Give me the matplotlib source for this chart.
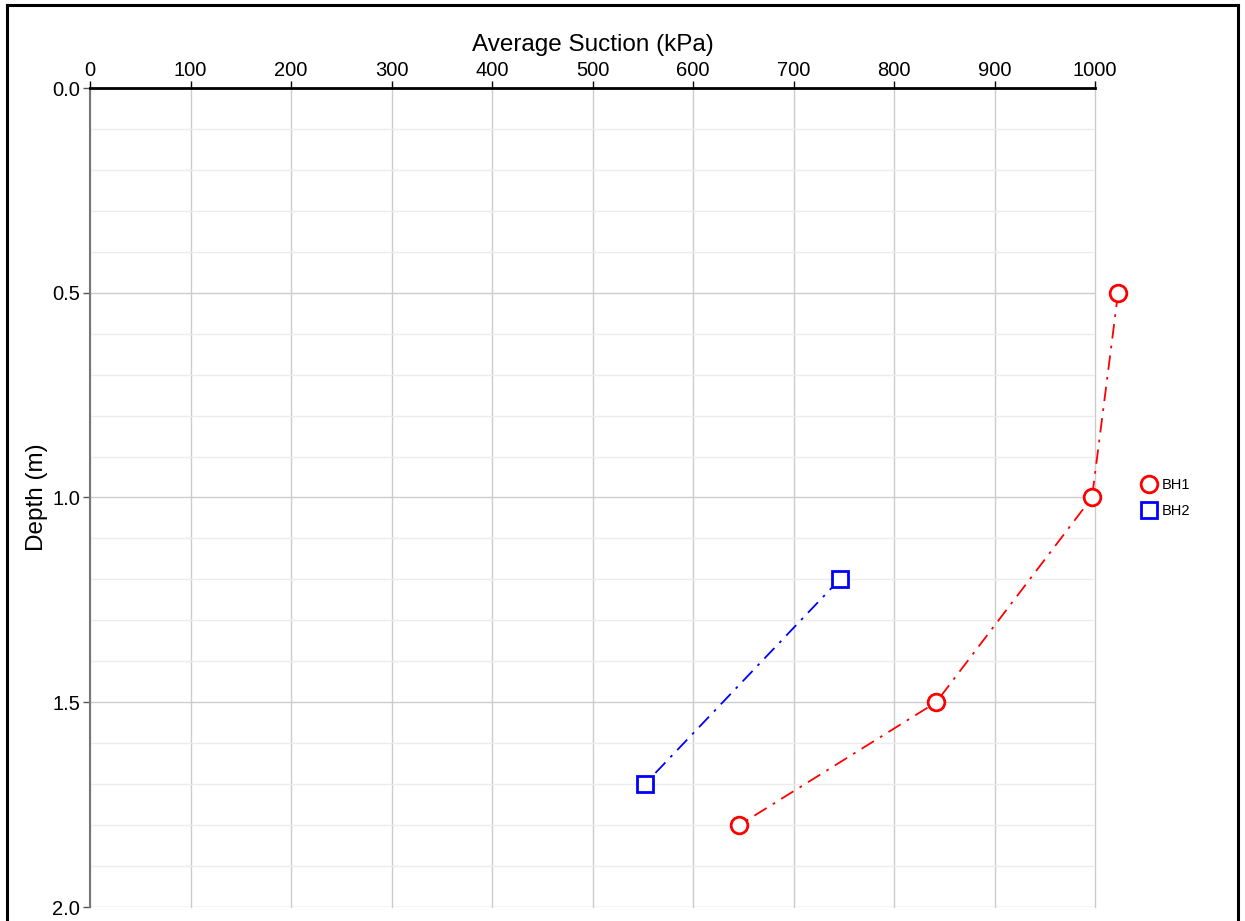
import matplotlib
matplotlib.use("Agg")
import matplotlib.pyplot as plt
from matplotlib.lines import Line2D
import numpy as np

plt.rcParams['font.family'] = ['Liberation Sans', 'DejaVu Sans']

bh1_suction = [1023, 997, 842, 646]
bh1_depth = [0.5, 1.0, 1.5, 1.8]
bh2_suction = [746, 552]
bh2_depth = [1.2, 1.7]
series_names = ["BH1", "BH2"]

W, H = 1245, 921
fig = plt.figure(figsize=(W/100, H/100), dpi=100)
ax = fig.add_axes([90/W, 1-907/H, (1095-90)/W, (907-88)/H])

ax.set_xlim(0, 1000)
ax.set_ylim(2.0, 0.0)
ax.xaxis.tick_top()
ax.xaxis.set_label_position('top')
ax.set_xticks(np.arange(0, 1001, 100))
ax.set_yticks([0.0, 0.5, 1.0, 1.5, 2.0])
ax.set_yticklabels(["0.0", "0.5", "1.0", "1.5", "2.0"])
ax.set_yticks(np.arange(0, 2.01, 0.1), minor=True)
ax.set_xlabel("Average Suction (kPa)", fontsize=17.5, labelpad=7)
ax.set_ylabel("Depth (m)", fontsize=17.5, labelpad=3)
ax.tick_params(axis='both', which='major', labelsize=14.5, length=5, width=1, direction='out')
ax.tick_params(axis='x', colors='black', pad=1)
ax.tick_params(axis='y', which='major', color='#555555', labelcolor='black', pad=2)
ax.tick_params(axis='y', which='minor', length=0)

ax.grid(True, which='major', axis='both', color='#cccccc', linewidth=1)
ax.grid(True, which='minor', axis='y', color='#ececec', linewidth=1)
ax.set_axisbelow(True)
for gl in ax.get_xgridlines():
    gl.set_clip_on(False)

for s in ['right', 'bottom']:
    ax.spines[s].set_visible(False)
ax.spines['top'].set_color('black')
ax.spines['top'].set_linewidth(2)
ax.spines['left'].set_color('#777777')
ax.spines['left'].set_linewidth(1.5)

ls = (0, (8, 4, 1.5, 4))
ax.plot(bh1_suction, bh1_depth, color='red', linestyle=ls, linewidth=1.3,
        marker='o', markersize=12, markerfacecolor='white', markeredgewidth=2, markeredgecolor='red',
        clip_on=False, zorder=3)
ax.plot(bh2_suction, bh2_depth, color='blue', linestyle=ls, linewidth=1.3,
        marker='s', markersize=11.5, markerfacecolor='white', markeredgewidth=2, markeredgecolor='blue',
        clip_on=False, zorder=3)

handles = [
    Line2D([], [], linestyle='none', marker='o', markersize=12, markerfacecolor='white',
           markeredgewidth=2, markeredgecolor='red'),
    Line2D([], [], linestyle='none', marker='s', markersize=11.5, markerfacecolor='white',
           markeredgewidth=2, markeredgecolor='blue'),
]
fig.legend(handles, series_names, loc='upper left', bbox_to_anchor=(1142/W, 1-478/H),
           frameon=False, fontsize=10.5, handlelength=1.0, handletextpad=0.35, labelspacing=0.85,
           borderaxespad=0, borderpad=0)

# figure border
for xs, ys in [([7, 7], [5, H+10]), ([7, 1238], [5, 5]), ([1238, 1238], [5, H+10])]:
    fig.add_artist(Line2D([x/W for x in xs], [1-y/H for y in ys], color='black', linewidth=2.2,
                          transform=fig.transFigure))

fig.savefig("out.png", dpi=100)
